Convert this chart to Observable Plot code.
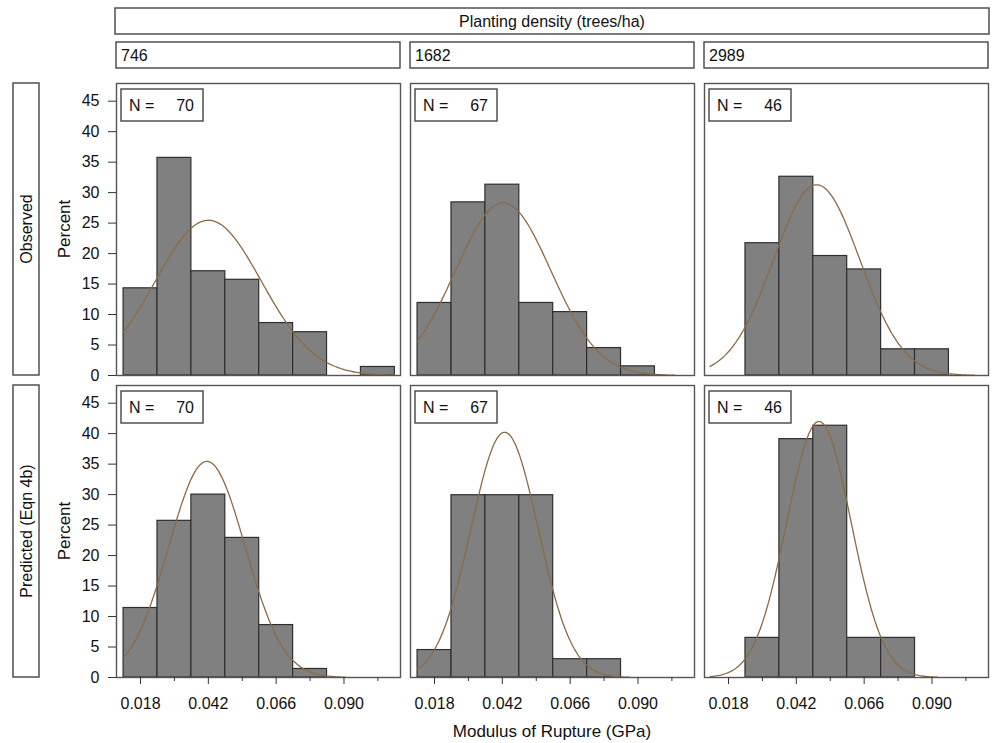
<!DOCTYPE html>
<html>
<head>
<meta charset="utf-8">
<script src="https://cdn.jsdelivr.net/npm/d3@7"></script>
<script src="https://cdn.jsdelivr.net/npm/@observablehq/plot@0.6"></script>
<style>
  html, body { margin: 0; padding: 0; background: #fff; }
  svg { display: block; }
</style>
</head>
<body>
<div id="chart"></div>
<script>
// ---------- data ----------
const densities = ["746", "1682", "2989"];
const rows = ["Observed", "Predicted (Eqn 4b)"];
const nValues = [70, 67, 46];

// histogram bin centres (GPa); bin width 0.012
const binCenters = [0.018, 0.030, 0.042, 0.054, 0.066, 0.078, 0.090, 0.102];
const binWidth = 0.012;

// percent per bin
const obs746   = [14.3, 35.7, 17.1, 15.7, 8.6, 7.1, 0, 1.4];
const obs1682  = [11.9, 28.4, 31.3, 11.9, 10.4, 4.5, 1.5, 0];
const obs2989  = [0, 21.7, 32.6, 19.6, 17.4, 4.3, 4.3, 0];
const pred746  = [11.4, 25.7, 30.0, 22.9, 8.6, 1.4, 0, 0];
const pred1682 = [4.5, 29.9, 29.9, 29.9, 3.0, 3.0, 0, 0];
const pred2989 = [0, 6.5, 39.1, 41.3, 6.5, 6.5, 0, 0];

// fitted normal curves: mean and sd (GPa) read from peak position/height, and drawn extent
const obsMean  = [0.0420, 0.0423, 0.0492];
const obsSd    = [0.0188, 0.0169, 0.0153];
const predMean = [0.0415, 0.0428, 0.0500];
const predSd   = [0.0135, 0.0119, 0.0114];
const obsCurveStart  = [0.012, 0.012, 0.0115];
const obsCurveEnd    = [0.108, 0.103, 0.105];
const predCurveStart = [0.012, 0.012, 0.0115];
const predCurveEnd   = [0.0905, 0.087, 0.092];

const yTicks = [0, 5, 10, 15, 20, 25, 30, 35, 40, 45];
const xMajorTicks = [0.018, 0.042, 0.066, 0.090];
const xMinorTicks = [0.030, 0.054, 0.078, 0.102];

const stripTitle = "Planting density (trees/ha)";
const yTitle = "Percent";
const xTitle = "Modulus of Rupture (GPa)";

// ---------- tables ----------
const series = {
  "Observed": [obs746, obs1682, obs2989],
  "Predicted (Eqn 4b)": [pred746, pred1682, pred2989]
};
const fits = {
  "Observed": {mean: obsMean, sd: obsSd, start: obsCurveStart, end: obsCurveEnd},
  "Predicted (Eqn 4b)": {mean: predMean, sd: predSd, start: predCurveStart, end: predCurveEnd}
};

const bars = [];
for (const row of rows) {
  densities.forEach((dens, i) => {
    series[row][i].forEach((pct, j) => {
      if (pct > 0) bars.push({row, dens, x1: binCenters[j] - binWidth / 2, x2: binCenters[j] + binWidth / 2, pct});
    });
  });
}

// normal density curve (scaled to percent per bin) for the fitted parameters
const curve = [];
for (const row of rows) {
  densities.forEach((dens, i) => {
    const f = fits[row];
    const mu = f.mean[i], sd = f.sd[i];
    const steps = 150;
    for (let k = 0; k <= steps; k++) {
      const x = f.start[i] + (f.end[i] - f.start[i]) * k / steps;
      const y = 100 * binWidth / (sd * Math.sqrt(2 * Math.PI)) * Math.exp(-0.5 * ((x - mu) / sd) ** 2);
      curve.push({row, dens, key: row + dens, x, y});
    }
  });
}

const FONT = "'Liberation Sans', Arial, Helvetica, sans-serif";

const plot = Plot.plot({
  width: 992,
  height: 743,
  marginLeft: 115,
  marginRight: 3,
  marginTop: 83,
  marginBottom: 66,
  style: {fontFamily: FONT, fontSize: "16px", color: "#111", background: "#fff"},
  x: {domain: [0.0095, 0.1100]},
  y: {domain: [0, 47.9]},
  fx: {domain: densities, axis: null, paddingInner: 10 / 295, paddingOuter: 0},
  fy: {domain: rows, axis: null, paddingInner: 10 / 302, paddingOuter: 0},
  marks: [
    Plot.rect(bars, {x1: "x1", x2: "x2", y1: 0, y2: "pct", fx: "dens", fy: "row",
      fill: "#808080", stroke: "#2e2e2e", strokeWidth: 1.2}),
    Plot.line(curve, {x: "x", y: "y", z: "key", fx: "dens", fy: "row",
      stroke: "#8b6b45", strokeWidth: 1.3}),
    Plot.frame({stroke: "#555", strokeWidth: 1.4}),
    Plot.axisY({ticks: yTicks, tickSize: 8, tickPadding: 9, label: null, fontSize: 16,
      stroke: "#333", fill: "#111"}),
    Plot.axisX({ticks: xMajorTicks, tickSize: 7, tickPadding: 13, label: null, fontSize: 16,
      tickFormat: d3.format(".3f"), stroke: "#333", fill: "#111"}),
    Plot.axisX({ticks: xMinorTicks, tickSize: 4, label: null, tickFormat: () => "",
      stroke: "#333"})
  ]
});

document.getElementById("chart").appendChild(plot);

// ---------- strips, N boxes and titles, positioned from Plot's facet scales ----------
const svg = d3.select(plot);
const FX = plot.scale("fx"), FY = plot.scale("fy");
const bw = FX.bandwidth, bh = FY.bandwidth;
const left = FX.range[0], right = FX.range[1];
const g = svg.append("g").attr("font-family", FONT).attr("fill", "#111")
  .attr("text-anchor", "start");

function box(x, y, w, h) {
  g.append("rect").attr("x", x).attr("y", y).attr("width", w).attr("height", h)
    .attr("fill", "#fff").attr("stroke", "#444").attr("stroke-width", 1.4);
}

// overall strip
box(left, 8, right - left, 26);
g.append("text").attr("x", (left + right) / 2).attr("y", 21).attr("dy", "0.35em")
  .attr("text-anchor", "middle").attr("font-size", 16).text(stripTitle);

// column strips
densities.forEach((d) => {
  const x = FX.apply(d);
  box(x, 42, bw, 26);
  g.append("text").attr("x", x + 5).attr("y", 55).attr("dy", "0.35em")
    .attr("text-anchor", "start").attr("font-size", 16).text(d);
});

// row strips + y titles
rows.forEach((r) => {
  const y = FY.apply(r);
  box(13, y, 26, bh);
  g.append("text").attr("transform", `translate(26,${y + bh / 2}) rotate(-90)`)
    .attr("dy", "0.35em").attr("text-anchor", "middle").attr("font-size", 16).text(r);
  g.append("text").attr("transform", `translate(64,${y + bh / 2}) rotate(-90)`)
    .attr("dy", "0.35em").attr("text-anchor", "middle").attr("font-size", 17).text(yTitle);
});

// N boxes
rows.forEach((r) => {
  densities.forEach((d, i) => {
    const x = FX.apply(d) + 5, y = FY.apply(r) + 6;
    box(x, y, 82, 32);
    g.append("text").attr("x", x + 8).attr("y", y + 16).attr("dy", "0.35em")
      .attr("text-anchor", "start").attr("font-size", 16).text("N =");
    g.append("text").attr("x", x + 73).attr("y", y + 16).attr("dy", "0.35em")
      .attr("text-anchor", "end").attr("font-size", 16).text(nValues[i]);
  });
});

// x title
g.append("text").attr("x", (left + right) / 2).attr("y", 731).attr("dy", "0.35em")
  .attr("text-anchor", "middle").attr("font-size", 17).text(xTitle);
</script>
</body>
</html>
